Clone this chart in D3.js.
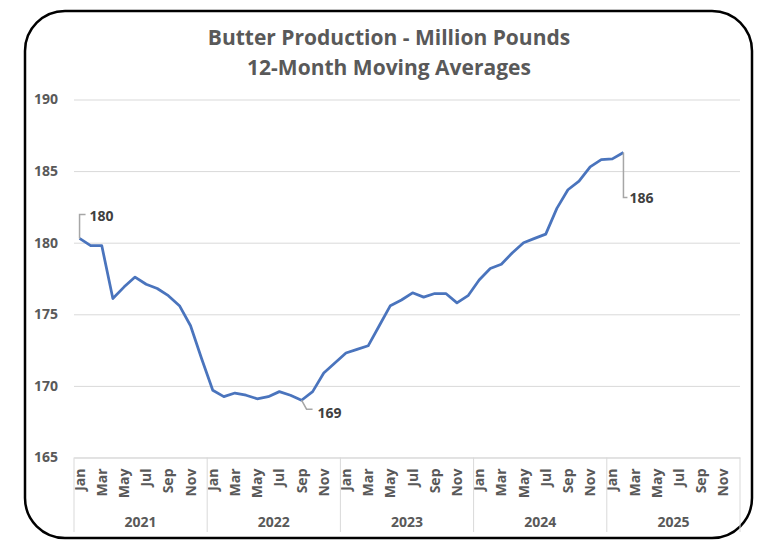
<!DOCTYPE html>
<html>
<head>
<meta charset="utf-8">
<script src="https://cdn.jsdelivr.net/npm/d3@7"></script>
<style>
  body { margin: 0; background: #fff; }
  svg { display: block; font-family: "Open Sans", Lato, sans-serif; }
</style>
</head>
<body>
<svg id="chart" width="772" height="552"></svg>
<script>
// chart data
const years = ['2021', '2022', '2023', '2024', '2025'];
const monthNames = ['Jan', 'Feb', 'Mar', 'Apr', 'May', 'Jun', 'Jul', 'Aug', 'Sep', 'Oct', 'Nov', 'Dec'];
const shownMonths = ['Jan', 'Mar', 'May', 'Jul', 'Sep', 'Nov'];
const yTicks = [165, 170, 175, 180, 185, 190];
// 12-month moving average, Jan 2021 .. Feb 2025
const butter = [
  180.3, 179.8, 179.8, 176.1, 176.9, 177.6, 177.1, 176.8, 176.3, 175.6, 174.2, 171.9,
  169.7, 169.25, 169.5, 169.35, 169.1, 169.25, 169.6, 169.35, 169.0, 169.6, 170.9, 171.6,
  172.3, 172.55, 172.8, 174.2, 175.6, 176.0, 176.5, 176.2, 176.45, 176.45, 175.8, 176.3,
  177.4, 178.2, 178.5, 179.3, 180.0, 180.3, 180.6, 182.4, 183.7, 184.3, 185.3, 185.8,
  185.85, 186.3
];
const labelled = [0, 20, 49];

const categories = [];
years.forEach(yr => monthNames.forEach(m => categories.push(yr + '-' + m)));

const svg = d3.select('#chart');
const font = '"Open Sans", sans-serif';

svg.append('rect')
  .attr('x', 25).attr('y', 11)
  .attr('width', 727).attr('height', 527)
  .attr('rx', 40).attr('ry', 40)
  .attr('fill', '#fff')
  .attr('stroke', '#000')
  .attr('stroke-width', 2.5);

let plotLeft = 74, plotRight = 740, plotTop = 99.5, plotBottom = 457.5;

let x = d3.scaleBand().domain(categories).range([plotLeft, plotRight]);
let y = d3.scaleLinear().domain([165, 190]).range([plotBottom, plotTop]);

// title
svg.append('text')
  .attr('x', 389).attr('y', 45)
  .attr('text-anchor', 'middle')
  .attr('font-size', 21).attr('font-weight', 'bold')
  .attr('fill', '#595959')
  .text('Butter Production - Million Pounds');
svg.append('text')
  .attr('x', 389).attr('y', 75)
  .attr('text-anchor', 'middle')
  .attr('font-size', 21).attr('font-weight', 'bold')
  .attr('fill', '#595959')
  .text('12-Month Moving Averages');

// y axis + gridlines
let yAxis = svg.append('g')
  .attr('transform', 'translate(' + plotLeft + ',0)')
  .call(d3.axisLeft(y).tickValues(yTicks).tickSize(-(plotRight - plotLeft)).tickPadding(16));
yAxis.select('.domain').remove();
yAxis.selectAll('line').attr('stroke', '#d9d9d9').attr('stroke-width', 1);
yAxis.selectAll('text')
  .attr('fill', '#595959')
  .attr('font-size', 14).attr('font-weight', 'bold')
  .attr('font-family', font);

// x axis month labels
let xAxis = svg.append('g')
  .attr('transform', 'translate(0,' + plotBottom + ')')
  .call(d3.axisBottom(x)
    .tickValues(categories.filter(c => shownMonths.includes(c.split('-')[1])))
    .tickSize(0)
    .tickFormat(c => c.split('-')[1]));
xAxis.select('.domain').attr('stroke', '#d9d9d9');
xAxis.selectAll('text')
  .attr('transform', 'rotate(-90)')
  .attr('x', -11).attr('y', 0).attr('dy', '0.36em')
  .style('text-anchor', 'end')
  .attr('fill', '#595959')
  .attr('font-size', 14).attr('font-weight', 'bold')
  .attr('font-family', font);

// year groups
let seps = years.map(yr => x(yr + '-Jan')).concat([plotRight]);
svg.append('g').selectAll('line')
  .data(seps)
  .enter()
  .append('line')
  .attr('x1', d => d).attr('x2', d => d)
  .attr('y1', plotBottom).attr('y2', 532)
  .attr('stroke', '#d9d9d9');
svg.append('g').selectAll('text')
  .data(years)
  .enter()
  .append('text')
  .attr('x', d => x(d + '-Jan') + x.step() * 6)
  .attr('y', 527)
  .attr('text-anchor', 'middle')
  .attr('fill', '#595959')
  .attr('font-size', 14).attr('font-weight', 'bold')
  .text(d => d);

// series line
let line = d3.line()
  .x((d, i) => x(categories[i]) + x.bandwidth() / 2)
  .y(d => y(d));

svg.append('path')
  .datum(butter)
  .attr('fill', 'none')
  .attr('stroke', '#4a74bd')
  .attr('stroke-width', 2.75)
  .attr('stroke-linejoin', 'round')
  .attr('d', line);

// data labels with leader lines (offsets from the point)
const leaders = {
  0: { pts: [[0, 0], [0, -24], [6, -24]], tx: 10, ty: -22 },
  20: { pts: [[0, 0], [5, 9], [11, 9]], tx: 16, ty: 13 },
  49: { pts: [[0, 0], [0, 45], [4, 45]], tx: 6, ty: 46 }
};
labelled.forEach(i => {
  let px = x(categories[i]) + x.bandwidth() / 2;
  let py = y(butter[i]);
  let l = leaders[i];
  svg.append('path')
    .attr('d', d3.line()(l.pts.map(p => [px + p[0], py + p[1]])))
    .attr('fill', 'none')
    .attr('stroke', '#a6a6a6')
    .attr('stroke-width', 1.5);
  svg.append('text')
    .attr('x', px + l.tx).attr('y', py + l.ty)
    .attr('dy', '0.35em')
    .attr('fill', '#404040')
    .attr('font-size', 14).attr('font-weight', 'bold')
    .text(Math.round(butter[i]));
});
</script>
</body>
</html>
